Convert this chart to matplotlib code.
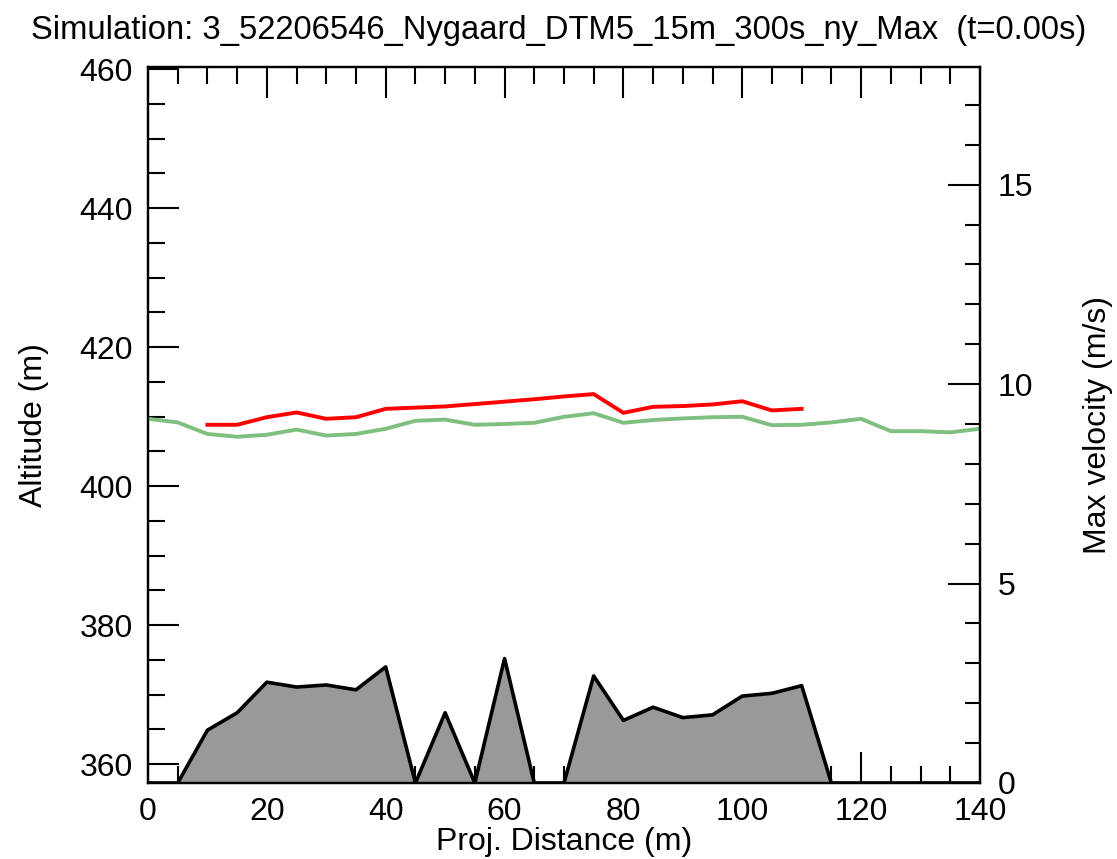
#profile plot: terrain + max velocity along projected distance
import numpy as np
import matplotlib
matplotlib.use("Agg")
import matplotlib.pyplot as plt
from matplotlib.ticker import MultipleLocator

plt.rcParams['font.family'] = ['Liberation Sans', 'DejaVu Sans']

title = "Simulation: 3_52206546_Nygaard_DTM5_15m_300s_ny_Max  (t=0.00s)"

# terrain profile every 5 m (values at the bottom edge = below view)
dist = [0, 5, 10, 15, 20, 25, 30, 35, 40, 45, 50, 55, 60, 65, 70,
        75, 80, 85, 90, 95, 100, 105, 110, 115, 120, 125, 130, 135, 140]
terrain = [357.3, 357.3, 364.9, 367.4, 371.8, 371.1, 371.4, 370.7, 374.0, 357.3, 367.4, 357.3, 375.2, 357.3, 357.3,
           372.7, 366.3, 368.2, 366.7, 367.1, 369.8, 370.2, 371.3, 357.3, 357.3, 357.3, 357.3, 357.3, 357.3]

# green velocity line (whole profile)
vel_green = [9.13, 9.04, 8.75, 8.68, 8.73, 8.86, 8.71, 8.75, 8.88, 9.08, 9.11, 8.98, 9.00, 9.03, 9.18,
             9.27, 9.03, 9.10, 9.14, 9.17, 9.18, 8.97, 8.98, 9.04, 9.13, 8.82, 8.82, 8.79, 8.88]

# red velocity line (10 .. 110 m)
dist_red = [10, 15, 20, 25, 30, 35, 40, 45, 50, 55, 60, 65, 70, 75, 80, 85, 90, 95, 100, 105, 110]
vel_red = [8.98, 8.98, 9.17, 9.29, 9.13, 9.17, 9.38, 9.41, 9.44, 9.50, 9.56, 9.62, 9.69, 9.75,
           9.28, 9.43, 9.45, 9.49, 9.57, 9.34, 9.38]

fig = plt.figure(figsize=(11.17, 8.59), dpi=100)
ax = fig.add_axes([0.1325, 0.0885, 0.7448, 0.8335])
ax2 = ax.twinx()

ax.set_xlim(0, 140)
ax.set_ylim(357.3, 460.3)
ax2.set_ylim(0, 17.95)

# terrain on top of the ticks (the reference hides ticks behind it)
ax.fill_between(dist, 350, terrain, color='#999999', zorder=3, lw=0)
ax.plot(dist, terrain, color='black', lw=2.6, zorder=4)

ax2.plot(dist, vel_green, color='#7fbf7f', lw=2.8)
ax2.plot(dist_red, vel_red, color='#ff0000', lw=2.8)

ax.xaxis.set_major_locator(MultipleLocator(20))
ax.xaxis.set_minor_locator(MultipleLocator(5))
ax.yaxis.set_major_locator(MultipleLocator(20))
ax.yaxis.set_minor_locator(MultipleLocator(5))
ax2.yaxis.set_major_locator(MultipleLocator(5))
ax2.yaxis.set_minor_locator(MultipleLocator(1))

fs = 23
ax.tick_params(axis='x', which='both', direction='in', top=True, bottom=True, width=1.5, labelsize=fs, pad=10)
ax.tick_params(axis='y', which='both', direction='in', left=True, right=False, width=1.5, labelsize=fs, pad=11)
ax.tick_params(which='major', length=22)
ax.tick_params(which='minor', length=12)
ax2.tick_params(axis='y', which='both', direction='in', width=1.5, labelsize=fs, pad=13)
ax2.tick_params(which='major', length=23)
ax2.tick_params(which='minor', length=11)

for a in (ax, ax2):
    for s in a.spines.values():
        s.set_linewidth(1.6)
        s.set_zorder(5)

ax.set_xlabel("Proj. Distance (m)", fontsize=fs, labelpad=0)
ax.set_ylabel("Altitude (m)", fontsize=fs, labelpad=22)
ax2.set_ylabel("Max velocity (m/s)", fontsize=fs, labelpad=36)
fig.text(0.5, 0.965, title, fontsize=23.6, ha='center', va='center')

fig.savefig("out.png", dpi=100)
